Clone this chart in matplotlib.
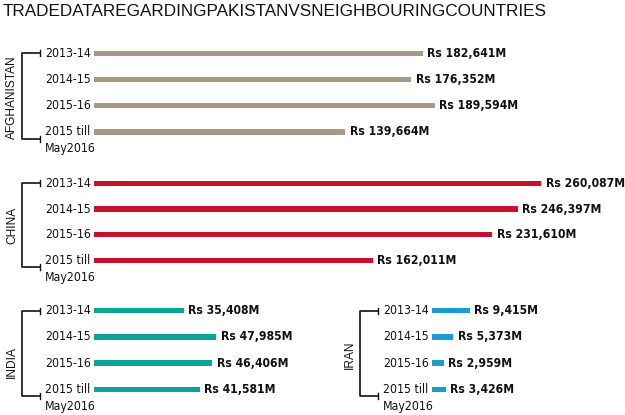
import matplotlib
import matplotlib.pyplot as plt

matplotlib.use("Agg")

W, H = 625, 415

periods = ["2013-14", "2014-15", "2015-16", "2015 till"]
last_period_note = "May2016"

afghanistan = [182641, 176352, 189594, 139664]
china = [260087, 246397, 231610, 162011]
india = [35408, 47985, 46406, 41581]
iran = [9415, 5373, 2959, 3426]

# layout in pixels: bar start, axes right edge, first bar y, row spacing,
# px per 1000M, bracket x, label x, country label centre
PANELS = [
    dict(name="AFGHANISTAN", values=afghanistan, color="#a89886",
         x0=94, right=625, y0=53.5, dy=26.1, scale=1.80,
         bx=22, lx=45, cy=97),
    dict(name="CHINA", values=china, color="#c8102e",
         x0=94, right=625, y0=183.5, dy=25.6, scale=1.72,
         bx=22, lx=45, cy=225),
    dict(name="INDIA", values=india, color="#0aa597",
         x0=94, right=345, y0=310.7, dy=26.2, scale=2.55,
         bx=22, lx=45, cy=362),
    dict(name="IRAN", values=iran, color="#1b9ad6",
         x0=432, right=625, y0=310.7, dy=26.2, scale=4.0,
         bx=360, lx=383, cy=355),
]

NARROW = dict(family=["DejaVu Sans"], fontstretch="condensed")

fig = plt.figure(figsize=(W / 100, H / 100), dpi=100)
fig.patch.set_facecolor("white")

overlay = fig.add_axes([0, 0, 1, 1])
overlay.set_xlim(0, W)
overlay.set_ylim(H, 0)
overlay.axis("off")

overlay.text(3, 4, "TRADEDATAREGARDINGPAKISTANVSNEIGHBOURINGCOUNTRIES",
             fontsize=12.3, family=["Liberation Sans", "DejaVu Sans"],
             va="top", ha="left", color="#111111")

for p in PANELS:
    n = len(p["values"])
    top = p["y0"] - p["dy"] / 2
    height = p["dy"] * n
    ax = fig.add_axes([p["x0"] / W, 1 - (top + height) / H,
                       (p["right"] - p["x0"]) / W, height / H])
    ax.patch.set_alpha(0)
    ax.set_xlim(0, (p["right"] - p["x0"]) / p["scale"] * 1000)
    ax.set_ylim(n - 0.5, -0.5)
    ax.axis("off")
    ax.barh(range(n), p["values"], height=5.5 / p["dy"], color=p["color"])
    for i, v in enumerate(p["values"]):
        ax.annotate(f"Rs {v:,}M", (v, i), xytext=(3, 0),
                    textcoords="offset points", va="center", ha="left",
                    fontsize=8.7, fontweight="bold", color="#111111",
                    **NARROW)

    # period labels
    ys = [p["y0"] + p["dy"] * i for i in range(n)]
    for y, lab in zip(ys, periods):
        overlay.text(p["lx"], y, lab, va="center", ha="left",
                     fontsize=8.8, color="#111111", **NARROW)
    overlay.text(p["lx"], ys[-1] + 17, last_period_note, va="center",
                 ha="left", fontsize=8.8, color="#111111", **NARROW)

    # bracket
    yb = ys[-1] + 7
    bx, tx = p["bx"], p["lx"] - 5
    overlay.plot([tx, bx, bx, tx], [ys[0], ys[0], yb, yb],
                 color="#111111", lw=1.2, solid_capstyle="butt")
    for yy in (ys[0], yb):
        overlay.plot([tx, tx], [yy - 3, yy + 3], color="#111111", lw=1.0)

    overlay.text(p["bx"] - 10, p["cy"], p["name"], rotation=90,
                 va="center", ha="center", fontsize=8.6,
                 family=["Liberation Sans", "DejaVu Sans"], color="#111111")

fig.savefig("out.png", dpi=100)
